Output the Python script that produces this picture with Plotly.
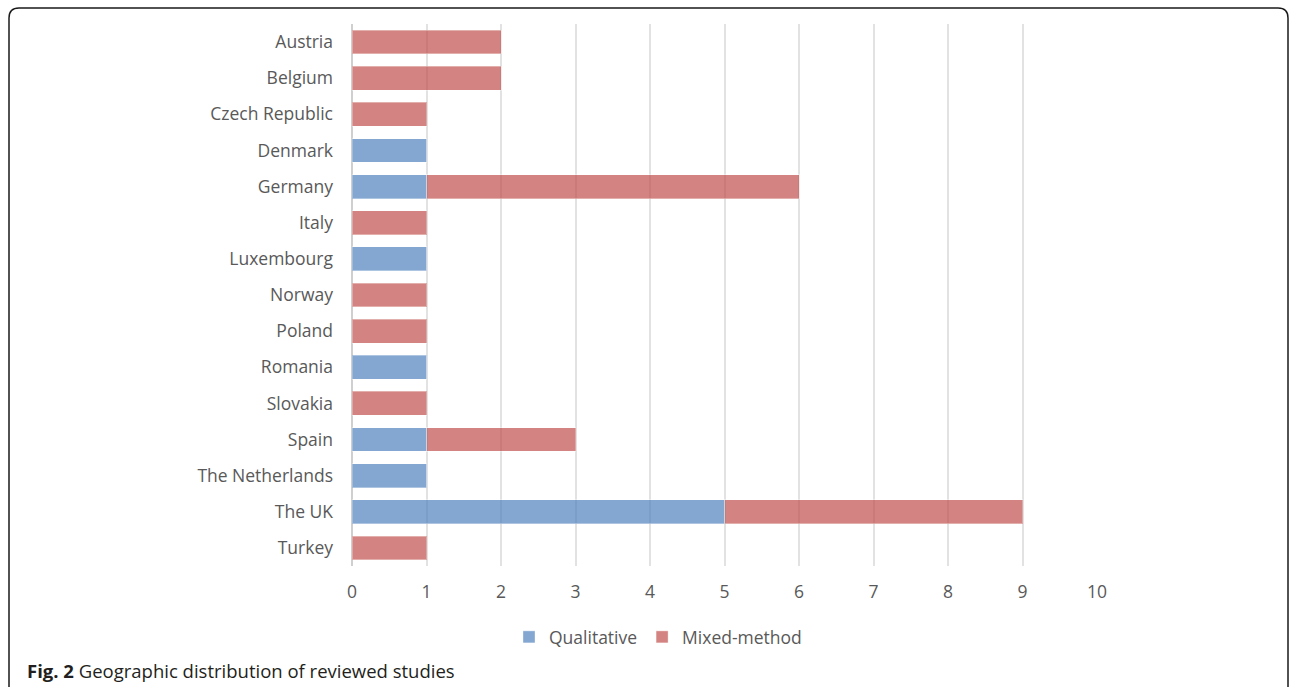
import plotly.graph_objects as go

countries = ["Austria", "Belgium", "Czech Republic", "Denmark", "Germany", "Italy",
             "Luxembourg", "Norway", "Poland", "Romania", "Slovakia", "Spain",
             "The Netherlands", "The UK", "Turkey"]
qualitative = [0, 0, 0, 1, 1, 0, 1, 0, 0, 1, 0, 1, 1, 5, 0]
mixed = [2, 2, 1, 0, 5, 1, 0, 1, 1, 0, 1, 2, 0, 4, 1]
x_ticks = list(range(0, 11))

W, H = 1290, 687
ML, MR, MT, MB = 352, 193, 24, 121
PW, PH = W - ML - MR, H - MT - MB

def px(x):
    return (x - ML) / PW

def py(y):
    return (H - MB - y) / PH

FONT = "Open Sans"
fig = go.Figure()
fig.add_trace(go.Bar(y=countries, x=qualitative, name="Qualitative", orientation="h",
                     marker=dict(color="rgba(79,129,189,0.7)",
                                 line=dict(width=1, color="rgba(255,255,255,0.35)"))))
fig.add_trace(go.Bar(y=countries, x=mixed, name="Mixed-method", orientation="h",
                     marker=dict(color="rgba(192,80,77,0.7)",
                                 line=dict(width=1, color="rgba(255,255,255,0.35)"))))

# border with rounded top corners
r = 10
L, T, R, B = 9, 8, 1288, 700
path = (f"M {px(L)},{py(B)} L {px(L)},{py(T + r)} Q {px(L)},{py(T)} {px(L + r)},{py(T)} "
        f"L {px(R - r)},{py(T)} Q {px(R)},{py(T)} {px(R)},{py(T + r)} L {px(R)},{py(B)}")

fig.update_layout(
    width=W, height=H,
    margin=dict(l=ML, r=MR, t=MT, b=MB),
    barmode="stack", bargap=0.34,
    plot_bgcolor="white", paper_bgcolor="white",
    font=dict(family=FONT, size=17.5, color="#595959"),
    xaxis=dict(range=[0, 10], tickvals=x_ticks, showgrid=True, gridcolor="#e2e2e2",
               gridwidth=2, zeroline=True, zerolinecolor="#cfcfcf", zerolinewidth=2,
               showline=False, ticks="", ticklabelstandoff=13, fixedrange=True),
    yaxis=dict(autorange="reversed", showgrid=False, zeroline=False, showline=False,
               ticks="", ticklabelstandoff=18),
    legend=dict(orientation="h", x=px(658), xanchor="center", y=py(637), yanchor="middle",
                font=dict(size=17.5, color="#595959"), itemwidth=30, traceorder="normal"),
    shapes=[dict(type="path", xref="paper", yref="paper", path=path,
                 line=dict(color="#1a1a1a", width=1.5))],
    annotations=[dict(xref="paper", yref="paper", x=px(25), y=py(670), xanchor="left",
                      yanchor="middle", showarrow=False,
                      text="<b>Fig. 2</b> Geographic distribution of reviewed studies",
                      font=dict(family=FONT, size=18.5, color="#231f20"))],
)
fig.write_html("out.html")
